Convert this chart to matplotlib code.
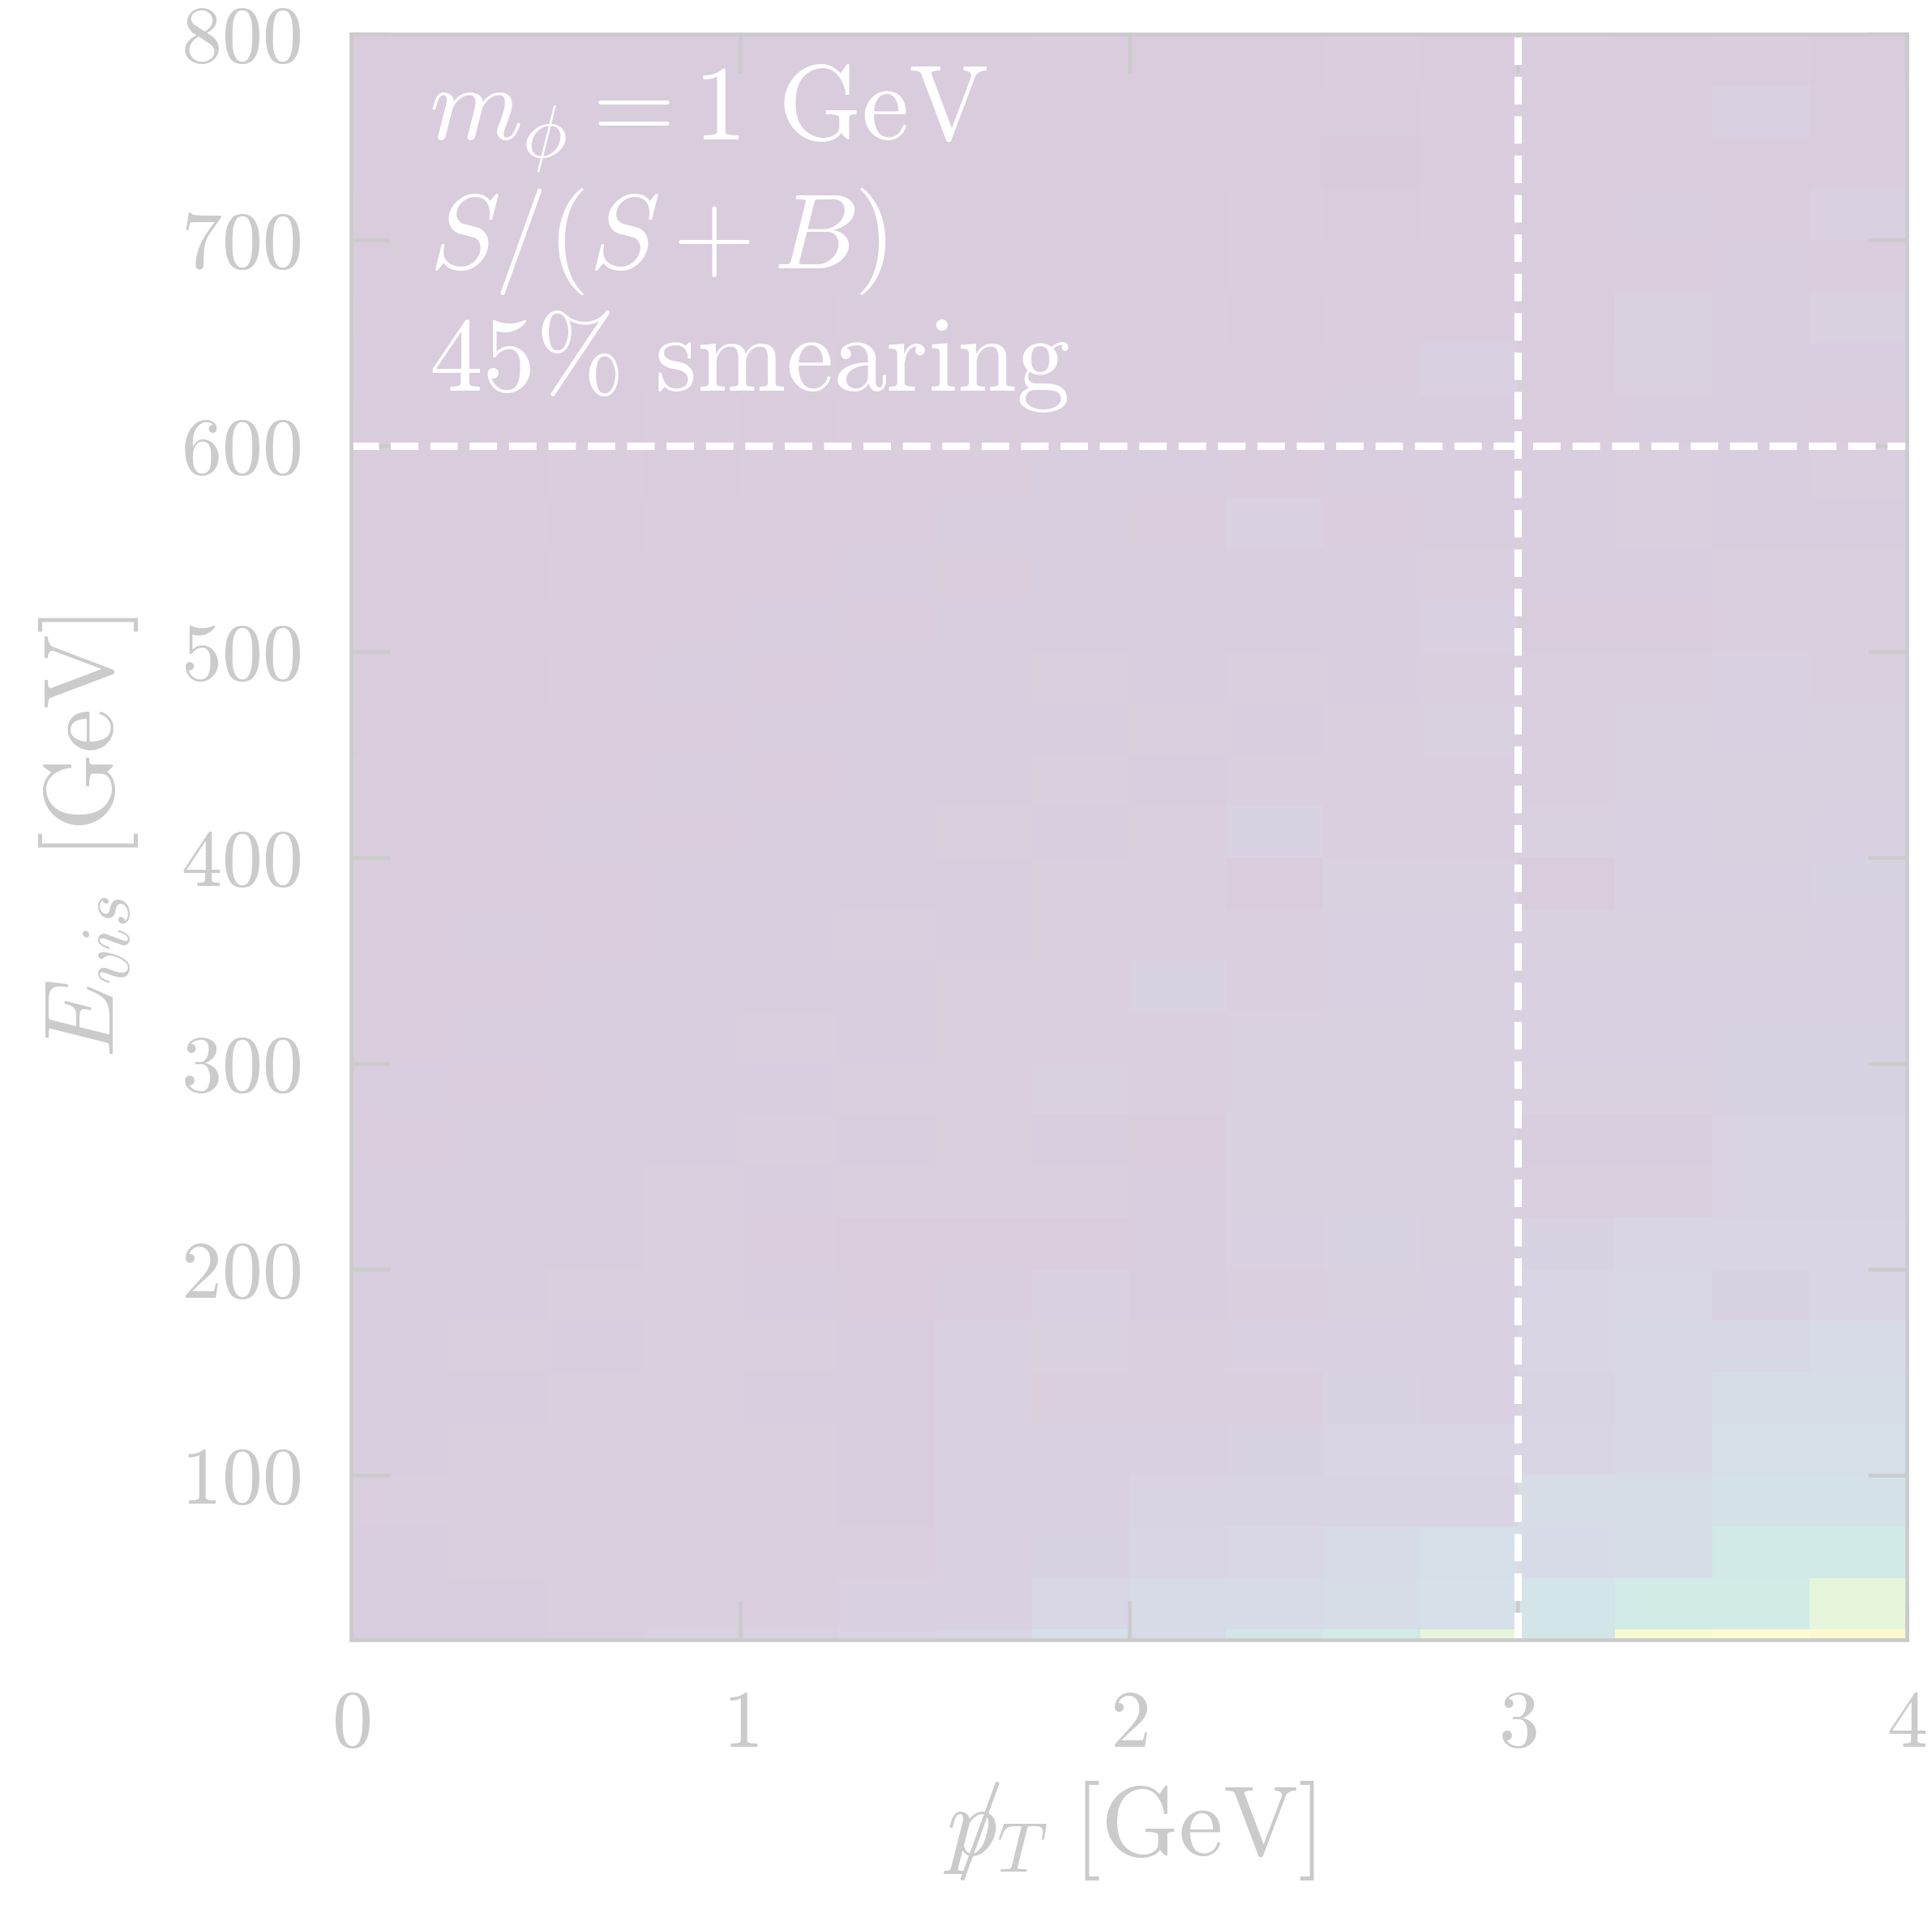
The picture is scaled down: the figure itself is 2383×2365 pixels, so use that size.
import numpy as np
import matplotlib
matplotlib.use("Agg")
import matplotlib.pyplot as plt
from matplotlib.patches import Rectangle

plt.rcParams["mathtext.fontset"] = "cm"
plt.rcParams["font.family"] = "serif"
plt.rcParams["font.serif"] = ["cmr10"]
plt.rcParams["axes.formatter.use_mathtext"] = True
plt.rcParams["axes.unicode_minus"] = False

# bin edges: missing pT (GeV) and visible energy (GeV)
met_edges = np.linspace(0, 4, 17)
evis_edges = np.linspace(0, 800, 33)

# S/(S+B) per bin, rows from the top (775-800 GeV) down to the bottom (0-25 GeV)
ratio_rows = [
    [0.01, 0.01, 0.01, 0.02, 0.01, 0.02, 0.02, 0.03, 0.02, 0.02, 0.03, 0.02, 0.03, 0.02, 0.03, 0.02],
    [0.01, 0.01, 0.02, 0.01, 0.02, 0.01, 0.02, 0.03, 0.02, 0.02, 0.02, 0.03, 0.03, 0.03, 0.08, 0.03],
    [0.01, 0.02, 0.01, 0.02, 0.01, 0.02, 0.02, 0.03, 0.02, 0.02, 0.00, 0.03, 0.03, 0.03, 0.03, 0.03],
    [0.02, 0.01, 0.02, 0.01, 0.02, 0.02, 0.02, 0.03, 0.02, 0.03, 0.02, 0.03, 0.02, 0.04, 0.03, 0.07],
    [0.01, 0.02, 0.01, 0.02, 0.02, 0.02, 0.03, 0.02, 0.02, 0.03, 0.03, 0.03, 0.03, 0.03, 0.04, 0.03],
    [0.02, 0.01, 0.02, 0.02, 0.02, 0.03, 0.02, 0.03, 0.03, 0.02, 0.03, 0.03, 0.02, 0.06, 0.04, 0.06],
    [0.01, 0.02, 0.02, 0.02, 0.03, 0.02, 0.03, 0.03, 0.03, 0.03, 0.03, 0.07, 0.03, 0.06, 0.04, 0.04],
    [0.02, 0.02, 0.02, 0.03, 0.02, 0.03, 0.03, 0.03, 0.03, 0.03, 0.04, 0.04, 0.03, 0.04, 0.04, 0.03],
    [0.02, 0.02, 0.03, 0.02, 0.03, 0.03, 0.03, 0.04, 0.04, 0.03, 0.04, 0.04, 0.04, 0.05, 0.04, 0.05],
    [0.02, 0.03, 0.02, 0.03, 0.03, 0.03, 0.04, 0.04, 0.03, 0.08, 0.03, 0.04, 0.04, 0.05, 0.04, 0.04],
    [0.02, 0.02, 0.03, 0.03, 0.03, 0.04, 0.03, 0.04, 0.04, 0.04, 0.04, 0.05, 0.04, 0.04, 0.05, 0.05],
    [0.02, 0.03, 0.03, 0.03, 0.04, 0.03, 0.04, 0.04, 0.04, 0.04, 0.04, 0.07, 0.02, 0.02, 0.05, 0.05],
    [0.03, 0.02, 0.03, 0.04, 0.03, 0.04, 0.04, 0.05, 0.04, 0.05, 0.04, 0.05, 0.05, 0.05, 0.07, 0.05],
    [0.02, 0.03, 0.03, 0.03, 0.04, 0.04, 0.04, 0.04, 0.05, 0.04, 0.05, 0.06, 0.05, 0.06, 0.07, 0.06],
    [0.03, 0.03, 0.03, 0.04, 0.03, 0.04, 0.04, 0.05, 0.04, 0.05, 0.05, 0.05, 0.05, 0.06, 0.06, 0.06],
    [0.03, 0.03, 0.04, 0.03, 0.04, 0.04, 0.05, 0.04, 0.05, 0.09, 0.05, 0.05, 0.06, 0.07, 0.06, 0.07],
    [0.03, 0.03, 0.03, 0.04, 0.04, 0.04, 0.04, 0.05, 0.05, 0.02, 0.06, 0.06, 0.01, 0.07, 0.07, 0.09],
    [0.03, 0.04, 0.03, 0.04, 0.04, 0.05, 0.04, 0.05, 0.05, 0.05, 0.07, 0.07, 0.06, 0.06, 0.06, 0.08],
    [0.03, 0.03, 0.04, 0.04, 0.04, 0.04, 0.05, 0.05, 0.09, 0.05, 0.08, 0.06, 0.07, 0.07, 0.07, 0.08],
    [0.03, 0.04, 0.04, 0.04, 0.05, 0.04, 0.05, 0.05, 0.05, 0.06, 0.06, 0.06, 0.07, 0.07, 0.10, 0.10],
    [0.04, 0.03, 0.04, 0.04, 0.04, 0.05, 0.05, 0.06, 0.05, 0.06, 0.06, 0.06, 0.06, 0.06, 0.10, 0.10],
    [0.03, 0.04, 0.04, 0.04, 0.05, 0.04, 0.05, 0.04, 0.03, 0.06, 0.06, 0.06, 0.04, 0.04, 0.12, 0.12],
    [0.04, 0.04, 0.04, 0.05, 0.04, 0.05, 0.05, 0.05, 0.04, 0.06, 0.06, 0.06, 0.05, 0.05, 0.12, 0.12],
    [0.04, 0.04, 0.04, 0.05, 0.03, 0.02, 0.02, 0.02, 0.04, 0.08, 0.10, 0.06, 0.10, 0.14, 0.14, 0.15],
    [0.04, 0.04, 0.05, 0.05, 0.04, 0.03, 0.04, 0.08, 0.04, 0.05, 0.06, 0.08, 0.15, 0.16, 0.10, 0.15],
    [0.04, 0.05, 0.04, 0.05, 0.05, 0.04, 0.07, 0.06, 0.05, 0.08, 0.08, 0.08, 0.15, 0.18, 0.18, 0.25],
    [0.04, 0.04, 0.05, 0.05, 0.04, 0.04, 0.07, 0.05, 0.05, 0.05, 0.10, 0.08, 0.12, 0.18, 0.28, 0.28],
    [0.04, 0.05, 0.05, 0.05, 0.05, 0.04, 0.07, 0.07, 0.08, 0.10, 0.15, 0.15, 0.15, 0.20, 0.30, 0.30],
    [0.05, 0.05, 0.05, 0.05, 0.05, 0.04, 0.07, 0.08, 0.12, 0.13, 0.13, 0.12, 0.28, 0.28, 0.38, 0.38],
    [0.04, 0.05, 0.05, 0.05, 0.05, 0.05, 0.07, 0.10, 0.15, 0.17, 0.25, 0.30, 0.25, 0.28, 0.55, 0.55],
    [0.04, 0.04, 0.05, 0.05, 0.05, 0.08, 0.08, 0.17, 0.22, 0.25, 0.28, 0.34, 0.44, 0.58, 0.58, 0.82],
    [0.04, 0.04, 0.05, 0.06, 0.06, 0.12, 0.15, 0.35, 0.25, 0.45, 0.58, 0.82, 0.45, 0.95, 1.00, 0.98],
]

met_cut = 3.0
evis_cut = 600.0

ratio = np.array(ratio_rows)[::-1]

fig = plt.figure(figsize=(2383 / 300, 2365 / 300), dpi=300)
ax = fig.add_axes([0.1817, 0.1446, 0.8053, 0.8376])

ax.pcolormesh(met_edges, evis_edges, ratio, cmap="viridis", vmin=0, vmax=1)
ax.axhline(evis_cut, color="white", ls="--", lw=2.2)
ax.axvline(met_cut, color="white", ls="--", lw=2.2)

ax.set_xlim(0, 4)
ax.set_ylim(20, 800)
ax.set_xticks([0, 1, 2, 3, 4])
ax.set_yticks([100, 200, 300, 400, 500, 600, 700, 800])
ax.tick_params(direction="in", top=True, right=True, length=11.5, width=1.1,
               labelsize=24, pad=15)
for sp in ax.spines.values():
    sp.set_linewidth(1.1)

ax.set_xlabel(r"$/\!\!\!\!p_T\ [\mathrm{GeV}]$", fontsize=29.5, labelpad=5)
ax.set_ylabel(r"$E_{vis}\ [\mathrm{GeV}]$", fontsize=29.5, labelpad=12)

ax.text(0.05, 0.934, r"$m_\phi = 1\ \mathrm{GeV}$", transform=ax.transAxes,
        color="white", fontsize=31.5, va="baseline")
ax.text(0.05, 0.854, r"$S/(S+B)$", transform=ax.transAxes,
        color="white", fontsize=31.5, va="baseline")
ax.text(0.05, 0.778, r"$45\%\ \mathrm{smearing}$", transform=ax.transAxes,
        color="white", fontsize=31.5, va="baseline")

# washed-out look: a translucent white sheet over the whole figure
fig.add_artist(Rectangle((0, 0), 1, 1, transform=fig.transFigure,
                         facecolor="white", edgecolor="none", alpha=0.8, zorder=100))

fig.savefig("out.png", dpi=300)
